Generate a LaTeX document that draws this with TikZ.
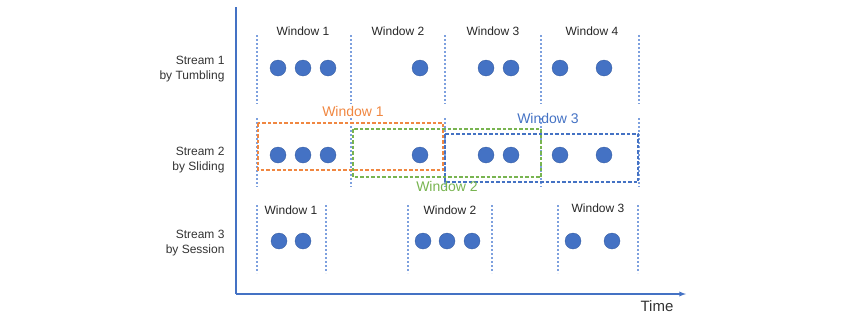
\documentclass[tikz,border=0pt]{standalone}
\usepackage{fontspec}
\setmainfont{Liberation Sans}
\usepackage{tikz}
\usetikzlibrary{arrows}
\definecolor{ppblue}{RGB}{68,114,196}
\definecolor{pporange}{RGB}{240,135,65}
\definecolor{ppgreen}{RGB}{120,180,80}
\definecolor{sepblue}{RGB}{125,160,222}
\tikzset{
  dot/.style={circle, fill=ppblue, draw=ppblue!80!black, line width=0.3pt, minimum size=16pt, inner sep=0pt},
  sepline/.style={sepblue, line width=1.1pt, dash pattern=on 2pt off 2pt},
  winlabel/.style={font=\fontsize{12}{14}\selectfont, text=black!85},
  slidelabel/.style={font=\fontsize{14}{16}\selectfont},
  rowlabel/.style={font=\fontsize{12}{15}\selectfont, text=black!80, align=right, anchor=east},
  slidebox/.style={line width=1.2pt, dash pattern=on 3.5pt off 2pt},
  axis/.style={ppblue, line width=1.3pt, -latex}
}

\begin{document}
\begin{tikzpicture}[x=1pt, y=-1pt]
\useasboundingbox (0,0) rectangle (844,317);
% axes
\coordinate (top) at (236,7);
\coordinate (origin) at (236,294);
\coordinate (tend) at (686,294);
\draw[ppblue, line width=1.3pt] (top) -- (origin);
\draw[axis] (origin) -- (tend);
\node[font=\fontsize{15}{17}\selectfont, text=black!80] (time) at (657,306) {Time};
% row labels
\node[rowlabel] (stream1) at (228,69) {Stream 1\\by Tumbling};
\node[rowlabel] (stream2) at (228,160) {Stream 2\\by Sliding};
\node[rowlabel] (stream3) at (228,243) {Stream 3\\by Session};
% stream 1: tumbling
\draw[sepline] (257,35) -- (257,104);
\draw[sepline] (351,35) -- (351,104);
\draw[sepline] (445,35) -- (445,104);
\draw[sepline] (541,35) -- (541,104);
\draw[sepline] (639,35) -- (639,104);
\node[winlabel] (tw1) at (303,31) {Window 1};
\node[winlabel] (tw2) at (398,31) {Window 2};
\node[winlabel] (tw3) at (493,31) {Window 3};
\node[winlabel] (tw4) at (592,31) {Window 4};
\node[dot] (ta) at (278,68) {};
\node[dot] (tb) at (303,68) {};
\node[dot] (tc) at (328,68) {};
\node[dot] (td) at (420,68) {};
\node[dot] (te) at (486,68) {};
\node[dot] (tf) at (511,68) {};
\node[dot] (tg) at (560,68) {};
\node[dot] (th) at (604,68) {};
% stream 2: sliding
\draw[sepline] (257,118) -- (257,187);
\draw[sepline] (351,118) -- (351,187);
\draw[sepline] (445,118) -- (445,187);
\draw[sepline] (541,118) -- (541,187);
\draw[sepline] (639,118) -- (639,187);
\draw[slidebox, pporange] (258,123) rectangle (443,170);
\draw[slidebox, ppgreen] (353,129) rectangle (541,177);
\draw[slidebox, ppblue] (445,134) rectangle (638,182);
\node[slidelabel, text=pporange] (sw1) at (353,111) {Window 1};
\node[slidelabel, text=ppgreen] (sw2) at (447,186) {Window 2};
\node[slidelabel, text=ppblue] (sw3) at (548,118) {Window 3};
\node[dot] (sa) at (278,155) {};
\node[dot] (sb) at (303,155) {};
\node[dot] (sc) at (328,155) {};
\node[dot] (sd) at (420,155) {};
\node[dot] (se) at (486,155) {};
\node[dot] (sf) at (511,155) {};
\node[dot] (sg) at (560,155) {};
\node[dot] (sh) at (604,155) {};
% stream 3: session
\draw[sepline] (257,205) -- (257,273);
\draw[sepline] (326,205) -- (326,273);
\draw[sepline] (408,205) -- (408,273);
\draw[sepline] (492,205) -- (492,273);
\draw[sepline] (558,205) -- (558,273);
\draw[sepline] (638,205) -- (638,273);
\node[winlabel] (ew1) at (291,210) {Window 1};
\node[winlabel] (ew2) at (450,210) {Window 2};
\node[winlabel] (ew3) at (598,208) {Window 3};
\node[dot] (ea) at (279,241) {};
\node[dot] (eb) at (303,241) {};
\node[dot] (ec) at (423,241) {};
\node[dot] (ed) at (447,241) {};
\node[dot] (ee) at (472,241) {};
\node[dot] (ef) at (573,241) {};
\node[dot] (eg) at (612,241) {};
\end{tikzpicture}
\end{document}
